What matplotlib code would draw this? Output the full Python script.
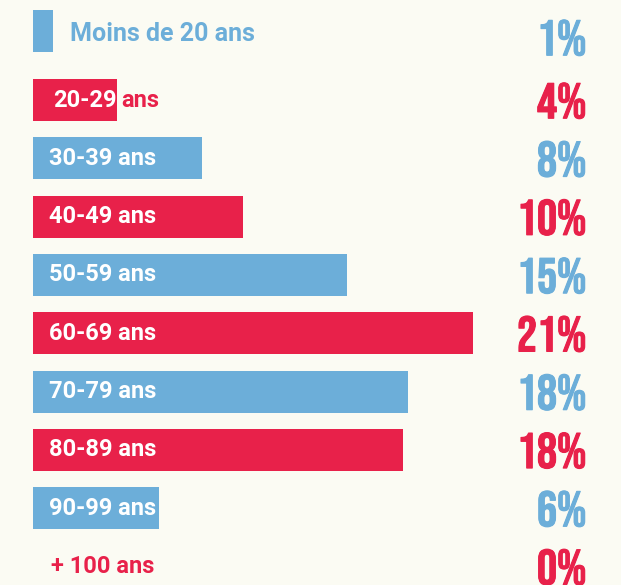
import matplotlib.pyplot as plt
import matplotlib.patheffects as pe
import numpy as np

# tranches d'age, du haut vers le bas
categories = ["Moins de 20 ans", "20-29 ans", "30-39 ans", "40-49 ans", "50-59 ans",
              "60-69 ans", "70-79 ans", "80-89 ans", "90-99 ans", "+ 100 ans"]
values = [0.95, 4.0, 8.05, 10.0, 14.95, 20.95, 17.85, 17.6, 6.0, 0.0]
pct_labels = ["1%", "4%", "8%", "10%", "15%", "21%", "18%", "18%", "6%", "0%"]

BLUE = "#6caed9"
RED = "#e8214a"
BG = "#fbfbf3"
colors = [BLUE if i % 2 == 0 else RED for i in range(len(categories))]

fig = plt.figure(figsize=(6.21, 5.85), dpi=100, facecolor=BG)
ax = fig.add_axes([0, 0, 1, 1])
ax.set_facecolor(BG)

# 21 px par point de pourcentage, barres qui commencent a x=33 px
px = 21.0
ax.set_xlim(-33 / px, (621 - 33) / px)

n = len(categories)
step = 58.3
ypos = np.arange(n, dtype=float)
ypos[0] -= 0.18
pct_y = ypos.copy()
pct_y[0] += 0.1
# ligne 1 centree a y=100 px
top = 1 - 100 / step
ax.set_ylim(top + 585 / step, top)

ax.barh(ypos, values, height=42 / step, color=colors, left=0)

lab_font = dict(family=["Roboto", "DejaVu Sans"], fontweight="bold", fontsize=17)
pct_font = dict(family=["Bebas Neue", "League Gothic", "Oswald", "DejaVu Sans"],
                fontsize=36)
for i, (cat, v, c) in enumerate(zip(categories, values, colors)):
    y = ypos[i]
    if i == 0:
        ax.text(37 / px, y + 0.05, cat, color=c, va="center", ha="left",
                **{**lab_font, "fontsize": 18})
    elif i == 1:
        head, tail = cat.split(" ")
        ax.text(20 / px, y, head, color="white", va="center", ha="left", **lab_font)
        ax.text(v + 4 / px, y, tail, color=c, va="center", ha="left", **lab_font)
    elif v == 0:
        ax.text(18 / px, y, cat, color=c, va="center", ha="left", **lab_font)
    else:
        ax.text(16 / px, y, cat, color="white", va="center", ha="left", **lab_font)

    ax.text((586.5 - 33) / px, pct_y[i], pct_labels[i], color=c, va="center_baseline",
            ha="right", path_effects=[pe.withStroke(linewidth=0.8, foreground=c)],
            **pct_font)

ax.axis("off")
fig.savefig("out.png", dpi=100, facecolor=BG)
